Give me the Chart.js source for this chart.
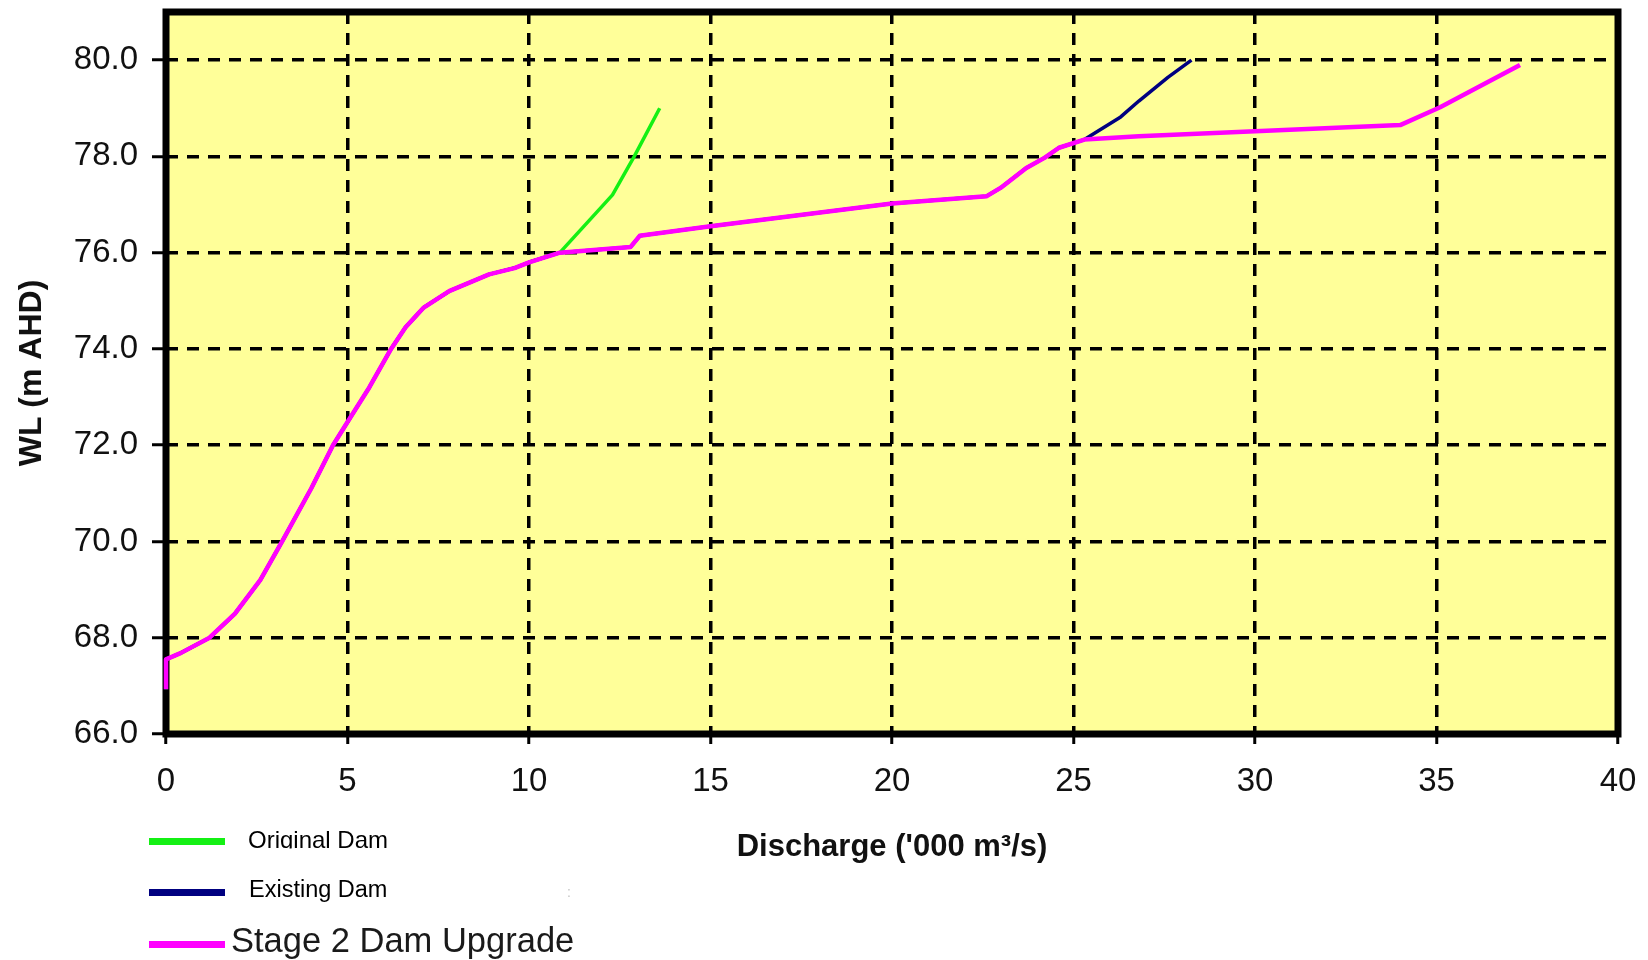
<!DOCTYPE html>
<html>
<head>
<meta charset="utf-8">
<title>Rating curves</title>
<script src="https://cdn.jsdelivr.net/npm/chart.js@4.4.1/dist/chart.umd.min.js"></script>
<style>
  html, body { margin: 0; padding: 0; background: #ffffff; }
  #wrap { width: 1648px; height: 960px; position: relative; }
  canvas { display: block; }
</style>
</head>
<body>
<div id="wrap"><canvas id="chart" width="1648" height="960"></canvas></div>
<script>
const FONT = '"Liberation Sans", Arial, Helvetica, sans-serif';

// Series names and colours
const seriesNames = ['Original Dam', 'Existing Dam', 'Stage 2 Dam Upgrade'];
const seriesColors = ['#14f014', '#000080', '#ff00ff'];

// Discharge ('000 m3/s) and water level (m AHD) for each configuration
const originalQ  = [0, 0, 0.4, 1.2, 1.9, 2.6, 3.2, 4.0, 4.6, 5.1, 5.6, 6.2, 6.6, 7.1, 7.8, 8.9, 9.6, 10.0, 10.85, 12.0, 12.3, 12.9, 13.6];
const originalWL = [66.93, 67.55, 67.68, 68.0, 68.5, 69.2, 70.0, 71.1, 72.0, 72.6, 73.2, 74.0, 74.45, 74.86, 75.2, 75.55, 75.68, 75.8, 76.0, 76.95, 77.2, 78.0, 79.0];

const existingQ  = [0, 0, 0.4, 1.2, 1.9, 2.6, 3.2, 4.0, 4.6, 5.1, 5.6, 6.2, 6.6, 7.1, 7.8, 8.9, 9.6, 10.0, 10.85, 12.8, 13.05, 15.0, 20.0, 22.6, 23.0, 23.7, 24.2, 24.6, 25.3, 26.3, 26.8, 27.6, 28.25];
const existingWL = [66.93, 67.55, 67.68, 68.0, 68.5, 69.2, 70.0, 71.1, 72.0, 72.6, 73.2, 74.0, 74.45, 74.86, 75.2, 75.55, 75.68, 75.8, 76.0, 76.12, 76.35, 76.55, 77.02, 77.17, 77.35, 77.76, 77.97, 78.18, 78.35, 78.82, 79.15, 79.64, 80.0];

const stage2Q  = [0, 0, 0.4, 1.2, 1.9, 2.6, 3.2, 4.0, 4.6, 5.1, 5.6, 6.2, 6.6, 7.1, 7.8, 8.9, 9.6, 10.0, 10.85, 12.8, 13.05, 15.0, 20.0, 22.6, 23.0, 23.7, 24.2, 24.6, 25.3, 26.8, 30.0, 34.0, 35.1, 37.3];
const stage2WL = [66.93, 67.55, 67.68, 68.0, 68.5, 69.2, 70.0, 71.1, 72.0, 72.6, 73.2, 74.0, 74.45, 74.86, 75.2, 75.55, 75.68, 75.8, 76.0, 76.12, 76.35, 76.55, 77.02, 77.17, 77.35, 77.76, 77.97, 78.18, 78.35, 78.42, 78.52, 78.65, 79.02, 79.9];

// Axis ticks
const xTicks = [0, 5, 10, 15, 20, 25, 30, 35, 40];
const yTicks = [66, 68, 70, 72, 74, 76, 78, 80];

const xTitle = "Discharge ('000 m\u00B3/s)";
const yTitle = 'WL (m AHD)';

function toPoints(xs, ys) {
  return xs.map((x, i) => ({ x: x, y: ys[i] }));
}

// Yellow plotting area and heavy black frame
const plotFrame = {
  id: 'plotFrame',
  beforeDraw(chart) {
    const { ctx, chartArea: a } = chart;
    ctx.save();
    ctx.fillStyle = '#ffffff';
    ctx.fillRect(0, 0, chart.width, chart.height);
    ctx.fillStyle = '#ffff99';
    ctx.fillRect(a.left, a.top, a.right - a.left, a.bottom - a.top);
    ctx.restore();
  },
  beforeDatasetsDraw(chart) {
    const { ctx, chartArea: a } = chart;
    ctx.save();
    ctx.strokeStyle = '#000000';
    ctx.lineWidth = 7;
    ctx.setLineDash([]);
    ctx.strokeRect(a.left, a.top, a.right - a.left, a.bottom - a.top);
    ctx.restore();
  }
};

// Stacked legend under the plot
const stackedLegend = {
  id: 'stackedLegend',
  afterDraw(chart, args, opts) {
    const { ctx } = chart;
    const sets = chart.data.datasets;
    ctx.save();
    opts.rows.forEach((row) => {
      const ds = sets[row.index];
      ctx.strokeStyle = ds.borderColor;
      ctx.lineWidth = 7;
      ctx.lineCap = 'butt';
      ctx.beginPath();
      ctx.moveTo(opts.lineX0, row.lineY);
      ctx.lineTo(opts.lineX1, row.lineY);
      ctx.stroke();

      ctx.save();
      if (row.clipBottom) {
        ctx.beginPath();
        ctx.rect(row.textX - 5, row.baseline - 60, 400, 60 + (row.clipBottom - row.baseline));
        ctx.clip();
      }
      ctx.fillStyle = row.color;
      ctx.font = row.font;
      ctx.textAlign = 'left';
      ctx.textBaseline = 'alphabetic';
      ctx.fillText(ds.label, row.textX, row.baseline);
      ctx.restore();
    });
    ctx.fillStyle = '#c4c4c4';
    ctx.font = '14px ' + FONT;
    ctx.fillText(':', opts.markX, opts.markY);
    ctx.restore();
  }
};

const ctx = document.getElementById('chart').getContext('2d');

new Chart(ctx, {
  type: 'line',
  data: {
    datasets: [
      {
        label: seriesNames[0],
        data: toPoints(originalQ, originalWL),
        borderColor: seriesColors[0],
        borderWidth: 3.5,
        order: 2
      },
      {
        label: seriesNames[1],
        data: toPoints(existingQ, existingWL),
        borderColor: seriesColors[1],
        borderWidth: 3.5,
        order: 1
      },
      {
        label: seriesNames[2],
        data: toPoints(stage2Q, stage2WL),
        borderColor: seriesColors[2],
        borderWidth: 4.5,
        order: 0
      }
    ]
  },
  options: {
    responsive: false,
    animation: false,
    devicePixelRatio: 1,
    clip: false,
    elements: {
      line: { tension: 0, fill: false, borderJoinStyle: 'round', borderCapStyle: 'butt' },
      point: { radius: 0, hoverRadius: 0 }
    },
    layout: { padding: { top: 12, right: 30, left: 0, bottom: 0 } },
    plugins: {
      legend: { display: false },
      tooltip: { enabled: false },
      stackedLegend: {
        lineX0: 149,
        lineX1: 225,
        markX: 567,
        markY: 897,
        rows: [
          { index: 0, lineY: 841.5, textX: 248, baseline: 847.5, clipBottom: 848.5, font: '24px ' + FONT, color: '#000000' },
          { index: 1, lineY: 892.5, textX: 249, baseline: 896.5, font: '23.5px ' + FONT, color: '#000000' },
          { index: 2, lineY: 944.5, textX: 231, baseline: 951.5, font: '34.5px ' + FONT, color: '#1a1a1a' }
        ]
      }
    },
    scales: {
      x: {
        type: 'linear',
        min: 0,
        max: 40,
        afterBuildTicks(scale) { scale.ticks = xTicks.map(v => ({ value: v })); },
        afterFit(scale) {
          scale.height = 226;
          scale.paddingLeft = 0;
          scale.paddingRight = 0;
        },
        ticks: {
          color: '#111111',
          font: { family: FONT, size: 33 },
          padding: 18,
          maxRotation: 0,
          autoSkip: false,
          callback: v => String(v)
        },
        grid: {
          color: '#000000',
          lineWidth: 3.5,
          tickLength: 10,
          tickColor: '#000000',
          tickWidth: 3,
          tickBorderDash: []
        },
        border: { display: false, dash: [12, 9] },
        title: {
          display: true,
          text: xTitle,
          color: '#111111',
          font: { family: FONT, size: 31, weight: 'bold' },
          padding: { top: 0, bottom: 94 }
        }
      },
      y: {
        type: 'linear',
        min: 66,
        max: 81,
        afterBuildTicks(scale) { scale.ticks = yTicks.map(v => ({ value: v })); },
        afterFit(scale) {
          scale.width = 166;
          scale.paddingTop = 0;
          scale.paddingBottom = 0;
        },
        ticks: {
          color: '#111111',
          font: { family: FONT, size: 33 },
          padding: 14,
          autoSkip: false,
          callback: v => Number(v).toFixed(1)
        },
        grid: {
          color: '#000000',
          lineWidth: 3.5,
          tickLength: 14,
          tickColor: '#000000',
          tickWidth: 3,
          tickBorderDash: []
        },
        border: { display: false, dash: [12, 9] },
        title: {
          display: true,
          text: yTitle,
          color: '#111111',
          font: { family: FONT, size: 32, weight: 'bold' },
          padding: { top: 13, bottom: 0 }
        }
      }
    }
  },
  plugins: [plotFrame, stackedLegend]
});
</script>
</body>
</html>
